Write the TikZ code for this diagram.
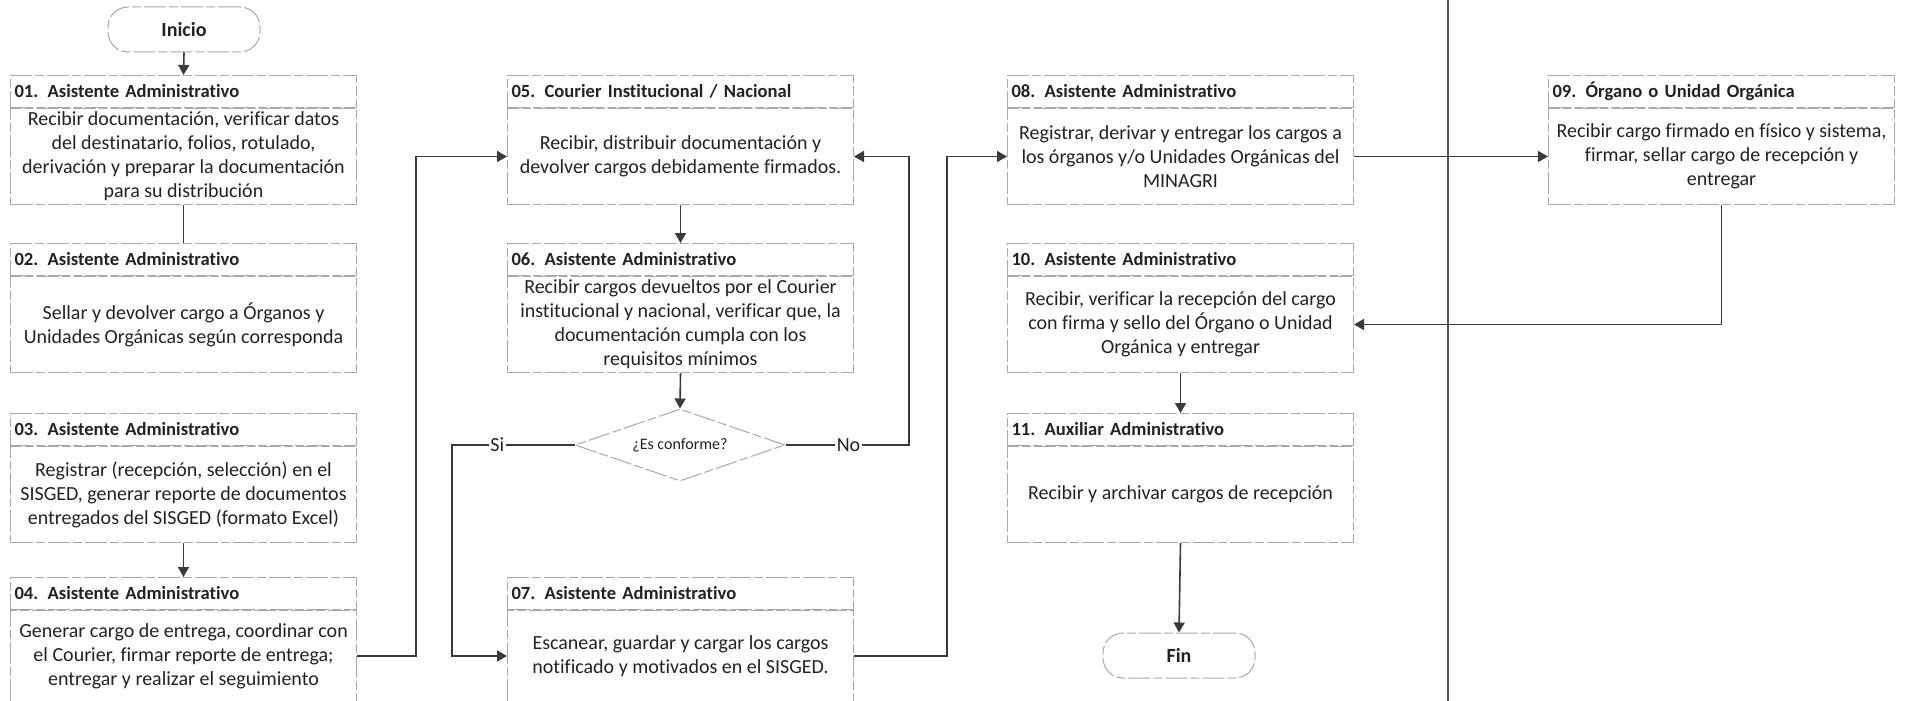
\documentclass[tikz,border=0pt]{standalone}
\usepackage{fontspec}
\setmainfont{Carlito}[Ligatures={NoCommon}]
\usetikzlibrary{arrows.meta,shapes.geometric}
\definecolor{ink}{HTML}{222222}
\definecolor{wire}{HTML}{3A3A3A}
\definecolor{rim}{HTML}{A8A8A8}
\definecolor{lane}{HTML}{555555}
\begin{document}
\begin{tikzpicture}[x=1pt,y=-1pt,
  rimline/.style={draw=rim, line width=1pt, dash pattern=on 22pt off 3pt on 9pt off 3pt},
  hdr/.style={rimline, rectangle, anchor=north west, minimum height=32pt,
    text width=338pt, inner xsep=4pt, inner ysep=0pt, align=left,
    font=\fontsize{18.6}{22}\selectfont\bfseries, text=ink},
  bodybox/.style={rimline, rectangle, anchor=north, minimum width=346pt,
    minimum height=96pt, inner xsep=2pt, inner ysep=0pt, align=center,
    font=\fontsize{20}{24}\selectfont, text=ink},
  term/.style={rimline, rectangle, rounded corners=20pt, minimum width=152pt,
    minimum height=45pt, font=\fontsize{20}{24}\selectfont\bfseries, text=ink},
  decision/.style={rimline, diamond, aspect=3, minimum width=210pt,
    minimum height=72pt, inner sep=0pt, font=\fontsize{16}{19}\selectfont, text=ink},
  conn/.style={draw=wire, line width=1.6pt},
  arr/.style={conn, -{Triangle[length=10pt,width=11pt]}},
  lbl/.style={fill=white, inner sep=1.5pt, font=\fontsize{20}{24}\selectfont, text=ink},
  divider/.style={draw=lane, line width=2pt}
]
\useasboundingbox (0,0) rectangle (1907,701);

% swimlane divider
\coordinate (lanetop) at (1448,0);
\coordinate (lanebot) at (1448,701);
\draw[divider] (lanetop) -- (lanebot);

% terminals
\node[term] (ini) at (184,29.5) {Inicio};
\node[term] (fin) at (1179,655.5) {Fin};

% column 1
\node[hdr] (h01) at (10,75) {01. Asistente Administrativo};
\node[bodybox] (b01) at (h01.south) {Recibir documentación, verificar datos\\del destinatario, folios, rotulado,\\derivación y preparar la documentación\\para su distribución};

\node[hdr] (h02) at (10,243) {02. Asistente Administrativo};
\node[bodybox] (b02) at (h02.south) {Sellar y devolver cargo a Órganos y\\Unidades Orgánicas según corresponda};

\node[hdr] (h03) at (10,413) {03. Asistente Administrativo};
\node[bodybox] (b03) at (h03.south) {Registrar (recepción, selección) en el\\SISGED, generar reporte de documentos\\entregados del SISGED (formato Excel)};

\node[hdr] (h04) at (10,577) {04. Asistente Administrativo};
\node[bodybox, minimum height=91pt] (b04) at (h04.south) {Generar cargo de entrega, coordinar con\\el Courier, firmar reporte de entrega;\\entregar y realizar el seguimiento};

% column 2
\node[hdr] (h05) at (507,75) {05. Courier Institucional / Nacional};
\node[bodybox] (b05) at (h05.south) {Recibir, distribuir documentación y\\devolver cargos debidamente firmados.};

\node[hdr] (h06) at (507,243) {06. Asistente Administrativo};
\node[bodybox] (b06) at (h06.south) {Recibir cargos devueltos por el Courier\\institucional y nacional, verificar que, la\\documentación cumpla con los\\requisitos mínimos};

\node[decision] (dec) at (680,445) {¿Es conforme?};

\node[hdr] (h07) at (507,577) {07. Asistente Administrativo};
\node[bodybox, minimum height=91pt] (b07) at (h07.south) {Escanear, guardar y cargar los cargos\\notificado y motivados en el SISGED.};

% column 3
\node[hdr] (h08) at (1007,75) {08. Asistente Administrativo};
\node[bodybox] (b08) at (h08.south) {Registrar, derivar y entregar los cargos a\\los órganos y/o Unidades Orgánicas del\\MINAGRI};

\node[hdr] (h10) at (1007,243) {10. Asistente Administrativo};
\node[bodybox] (b10) at (h10.south) {Recibir, verificar la recepción del cargo\\con firma y sello del Órgano o Unidad\\Orgánica y entregar};

\node[hdr] (h11) at (1007,413) {11. Auxiliar Administrativo};
\node[bodybox] (b11) at (h11.south) {Recibir y archivar cargos de recepción};

% column 4
\node[hdr] (h09) at (1548,75) {09. Órgano o Unidad Orgánica};
\node[bodybox] (b09) at (h09.south) {Recibir cargo firmado en físico y sistema,\\firmar, sellar cargo de recepción y\\entregar};

% routing columns for elbow connectors
\coordinate (jA) at (416,0);
\coordinate (jSi) at (452,0);
\coordinate (jNo) at (909,0);
\coordinate (jB) at (947,0);

% connectors
\draw[arr] (ini.south) -- (h01.north);
\draw[conn] (b01.south) -- (h02.north);
\draw[arr] (b03.south) -- (h04.north);
\draw[arr] (b04.east) -- (b04.east -| jA) |- (b05.west);
\draw[arr] (b05.south) -- (h06.north);
\draw[arr] (b06.south) -- (dec.north);
\draw[arr] (dec.west) -- node[lbl, pos=0.63] {Si} (dec.west -| jSi) |- (b07.west);
\draw[arr] (dec.east) -- node[lbl, pos=0.51] {No} (dec.east -| jNo) |- (b05.east);
\draw[arr] (b07.east) -- (b07.east -| jB) |- (b08.west);
\draw[arr] (b08.east) -- (b09.west);
\draw[arr] (b09.south) |- (b10.east);
\draw[arr] (b10.south) -- (h11.north);
\draw[arr] (b11.south) -- (fin.north);
\end{tikzpicture}
\end{document}
